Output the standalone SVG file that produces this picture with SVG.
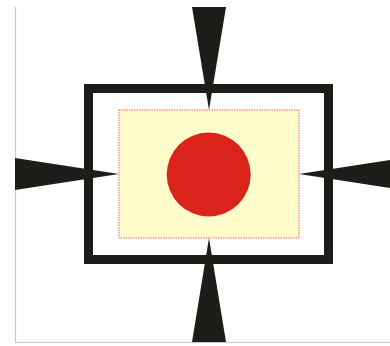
<svg xmlns="http://www.w3.org/2000/svg" width="390" height="346" viewBox="0 0 390 346">
<style>
.arrow{fill:#1e1c19}
.frame{fill:none;stroke:#1e1c19;stroke-width:9}
.border{fill:none;stroke:#c8c8c8;stroke-width:1.2}
</style>
<rect width="390" height="346" fill="#ffffff"/>
<path class="border" d="M15.5 7 V342.5 H390"/>
<g id="frame"><rect class="frame" x="88.5" y="88.5" width="240" height="171"/></g>
<g id="content">
<rect x="119" y="110" width="180" height="128" fill="#fffbcb" stroke="#e8473f" stroke-width="0.8" stroke-dasharray="1.5,1"/>
<circle cx="208.7" cy="174.5" r="42" fill="#d9231b"/>
</g>
<g id="connectors">
<polygon class="arrow" points="192,7 226,7 209,110"/>
<polygon class="arrow" points="192,342 226,342 209,238"/>
<polygon class="arrow" points="15,158 15,190 119,174"/>
<polygon class="arrow" points="403,158 403,190 299,174"/>
</g>
</svg>
